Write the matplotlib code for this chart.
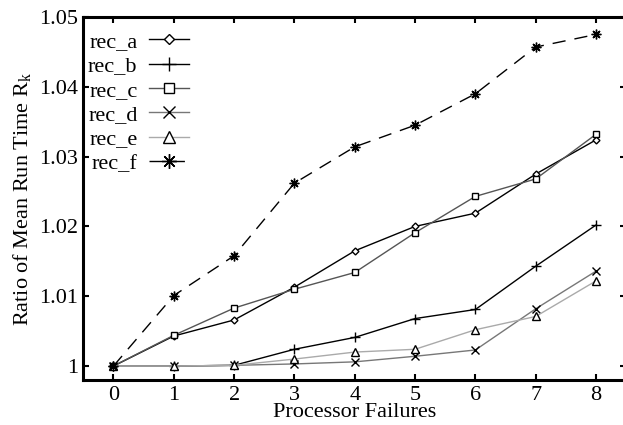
import matplotlib
matplotlib.use("Agg")
import matplotlib.pyplot as plt

failures = [0, 1, 2, 3, 4, 5, 6, 7, 8]
rec_a = [1.0, 1.0043, 1.0066, 1.0113, 1.0165, 1.0200, 1.0219, 1.0275, 1.0324]
rec_b = [1.0, 1.0, 1.0001, 1.0024, 1.0041, 1.0068, 1.0081, 1.0143, 1.0202]
rec_c = [1.0, 1.0044, 1.0083, 1.0110, 1.0134, 1.0191, 1.0243, 1.0268, 1.0332]
rec_d = [1.0, 1.0, 1.0001, 1.0003, 1.0006, 1.0014, 1.0023, 1.0082, 1.0136]
rec_e = [1.0, 1.0, 1.0001, 1.0010, 1.0020, 1.0024, 1.0052, 1.0071, 1.0122]
rec_f = [1.0, 1.0101, 1.0158, 1.0262, 1.0314, 1.0345, 1.0390, 1.0457, 1.0475]
series_names = ["rec_a", "rec_b", "rec_c", "rec_d", "rec_e", "rec_f"]
y_ticks = [1.0, 1.01, 1.02, 1.03, 1.04, 1.05]
y_tick_labels = ["1", "1.01", "1.02", "1.03", "1.04", "1.05"]

plt.rcParams['font.family'] = ['Liberation Serif', 'DejaVu Serif']
plt.rcParams['mathtext.fontset'] = 'custom'
plt.rcParams['mathtext.rm'] = 'Liberation Serif'
plt.rcParams['mathtext.it'] = 'Liberation Serif'

fig = plt.figure(figsize=(6.23, 4.25), dpi=100)
ax = fig.add_axes([83.3 / 623, 45 / 425, (626.2 - 83.3) / 623, (380 - 17) / 425])

styles = [
    dict(color='black', marker='D', ms=3.5, mfc='white', ls='-'),
    dict(color='black', marker='+', ms=7, ls='-'),
    dict(color='#555555', marker='s', ms=4.5, mfc='white', ls='-'),
    dict(color='#777777', marker='x', ms=5.5, ls='-'),
    dict(color='#aaaaaa', marker='^', ms=5.5, mfc='white', ls='-'),
    dict(color='black', marker=(8, 2, 0), ms=7, ls=(0, (9.5, 6.5))),
]
data = [rec_a, rec_b, rec_c, rec_d, rec_e, rec_f]
for name, vals, st in zip(series_names, data, styles):
    ax.plot(failures, vals, label=name, lw=1.0, mec='black', mew=1.0, **st)

ax.set_xlim(-0.5, 8.5)
ax.set_ylim(0.998, 1.05)
ax.set_xticks(failures)
ax.set_yticks(y_ticks)
ax.set_yticklabels(y_tick_labels)
ax.tick_params(direction='in', length=4, width=1.5, labelsize=16,
               top=True, right=True, pad=4)
for s in ax.spines.values():
    s.set_linewidth(2.2)

ax.set_xlabel("Processor Failures", fontsize=16, labelpad=-1)
ax.set_ylabel("Ratio of Mean Run Time R$_\\mathrm{k}$", fontsize=16, labelpad=4)

leg = ax.legend(loc='upper left', bbox_to_anchor=(-0.016, 0.997), frameon=False,
                markerfirst=False, fontsize=16, markerscale=1.5,
                handlelength=1.8, handletextpad=0.5, labelspacing=0.17,
                borderaxespad=0.2)

fig.savefig("out.png", dpi=100)
